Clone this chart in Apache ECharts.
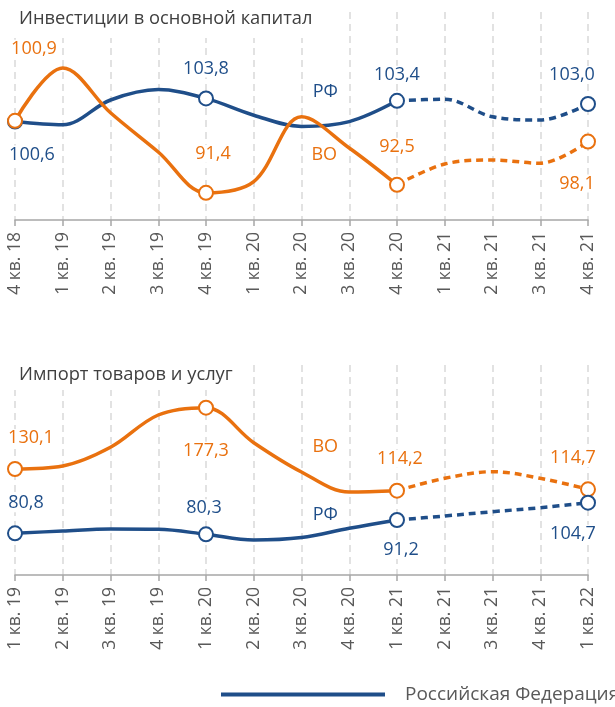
<!DOCTYPE html>
<html>
<head>
<meta charset="utf-8">
<script src="https://cdn.jsdelivr.net/npm/echarts@6/dist/echarts.min.js"></script>
<style>
  html, body { margin: 0; padding: 0; background: #fff; }
  #chart { width: 615px; height: 707px; }
</style>
</head>
<body>
<div id="chart"></div>
<script>
// категории по кварталам
const invCats = ['4 кв. 18', '1 кв. 19', '2 кв. 19', '3 кв. 19', '4 кв. 19', '1 кв. 20', '2 кв. 20',
  '3 кв. 20', '4 кв. 20', '1 кв. 21', '2 кв. 21', '3 кв. 21', '4 кв. 21'];
const impCats = ['1 кв. 19', '2 кв. 19', '3 кв. 19', '4 кв. 19', '1 кв. 20', '2 кв. 20', '3 кв. 20',
  '4 кв. 20', '1 кв. 21', '2 кв. 21', '3 кв. 21', '4 кв. 21', '1 кв. 22'];

// значения линий (оценка по картинке)
const invRF = [99.8, 99.4, 102.5, 103.8, 102.7, 100.6, 99.2, 99.8, 102.4, 102.6, 100.4, 100.0, 102.0];
const invVO = [99.9, 106.5, 100.9, 96.0, 90.9, 92.3, 100.4, 96.5, 91.9, 94.5, 95.0, 94.6, 97.3];
const impRF = [81.7, 84.0, 86.0, 85.7, 80.7, 75.0, 77.5, 86.7, 95.0, 99.0, 103.3, 107.3, 112.3];
const impVO = [146.0, 149.0, 167.7, 200.0, 207.3, 172.3, 143.0, 123.0, 124.3, 136.7, 143.3, 136.7, 125.7];

// подписи у маркеров (точки 0, 4, 8, 12)
const markIdx = [0, 4, 8, 12];
const invRFLabels = ['100,6', '103,8', '103,4', '103,0'];
const invVOLabels = ['100,9', '91,4', '92,5', '98,1'];
const impRFLabels = ['80,8', '80,3', '91,2', '104,7'];
const impVOLabels = ['130,1', '177,3', '114,2', '114,7'];

const splitIdx = 8; // дальше - прогноз (пунктир)
const nameIdx = 7;  // где стоит подпись РФ / ВО

const BLUE = '#1f4e89';
const ORANGE = '#e9710f';
const GRAY = '#595959';
const FONT = 'Open Sans';

// смещения подписей относительно точки
const offsets = {
  invRF: [[17, 33], [0, -30], [0, -26], [-16, -29]],
  invVO: [[19, -72], [7, -39], [0, -38], [-11, 42]],
  impRF: [[11, -30], [-2, -26], [4, 30], [-15, 31]],
  impVO: [[16, -31], [0, 43], [3, -32], [-15, -31]]
};
const nameOffsets = {
  invRF: [-24, -30], invVO: [-25, 7],
  impRF: [-24, -13], impVO: [-24, -45]
};

function makeLines(name, seriesName, values, labels, color, grid, key) {
  const solid = [], dashed = [];
  values.forEach((v, i) => {
    const k = markIdx.indexOf(i);
    let item = { value: v, symbol: 'none' };
    if (k >= 0) {
      item = {
        value: v,
        symbol: 'emptyCircle',
        label: {
          show: true,
          position: 'inside',
          offset: offsets[key][k],
          formatter: labels[k],
          color: color,
          fontSize: 18,
          fontFamily: FONT,
          backgroundColor: '#fff',
          padding: [0, 2]
        }
      };
    } else if (i === nameIdx) {
      item = {
        value: v,
        symbol: 'circle',
        symbolSize: 1,
        label: {
          show: true,
          position: 'inside',
          offset: nameOffsets[key],
          formatter: name,
          color: color,
          fontSize: 18,
          fontFamily: FONT
        }
      };
    }
    solid.push(i <= splitIdx ? item : '-');
    if (i >= splitIdx) dashed.push(i === splitIdx ? { value: v, symbol: 'none' } : item);
    else dashed.push('-');
  });
  const common = {
    type: 'line',
    xAxisIndex: grid,
    yAxisIndex: grid,
    smooth: 0.35,
    symbolSize: 14,
    showSymbol: true,
    color: color,
    itemStyle: { color: color, borderWidth: 2.2 },
    emphasis: { disabled: true },
    animation: false
  };
  return [
    Object.assign({}, common, {
      name: seriesName,
      data: solid,
      z: 3,
      lineStyle: { width: 3.5, color: color }
    }),
    Object.assign({}, common, {
      name: seriesName + ' прогноз',
      data: dashed,
      z: 3,
      lineStyle: { width: 3.5, color: color, type: [7, 5] }
    })
  ];
}

function xAxisFor(cats, grid) {
  return {
    type: 'category',
    gridIndex: grid,
    data: cats,
    boundaryGap: false,
    axisLine: { lineStyle: { color: '#a6a6a6', width: 1.5 } },
    axisTick: { show: true, length: 6, alignWithLabel: true, lineStyle: { color: '#a6a6a6', width: 1.5 } },
    axisLabel: {
      rotate: 90,
      interval: 0,
      margin: 12,
      color: GRAY,
      fontSize: 17.5,
      fontFamily: FONT
    },
    splitLine: {
      show: true,
      interval: 0,
      lineStyle: { color: '#d9d9d9', width: 1.5, type: [7, 5] }
    }
  };
}

const chart = echarts.init(document.getElementById('chart'), null, { renderer: 'canvas' });

const option = {
  backgroundColor: '#fff',
  animation: false,
  title: [
    {
      text: 'Инвестиции в основной капитал',
      left: 4, top: 0,
      padding: [9, 6, 9, 15],
      backgroundColor: '#fff',
      textStyle: { color: '#404040', fontSize: 18.3, fontWeight: 'normal', fontFamily: FONT, lineHeight: 20 }
    },
    {
      text: 'Импорт товаров и услуг',
      left: 4, top: 356,
      padding: [9, 6, 5, 15],
      backgroundColor: '#fff',
      textStyle: { color: '#404040', fontSize: 18.3, fontWeight: 'normal', fontFamily: FONT, lineHeight: 20 }
    }
  ],
  legend: {
    data: [{ name: 'Российская Федерация', icon: 'rect', itemStyle: { color: BLUE } }],
    left: 221,
    top: 685,
    padding: 0,
    itemWidth: 164,
    itemHeight: 4,
    selectedMode: false,
    textStyle: { color: GRAY, fontSize: 19, fontFamily: FONT, padding: [0, 0, 0, 15] }
  },
  grid: [
    { left: 15, right: 27, top: 12, height: 208 },
    { left: 15, right: 27, top: 365, height: 210 }
  ],
  xAxis: [xAxisFor(invCats, 0), xAxisFor(impCats, 1)],
  yAxis: [
    { type: 'value', gridIndex: 0, min: 87.5, max: 113.5, show: false },
    { type: 'value', gridIndex: 1, min: 40, max: 250, show: false }
  ],
  series: [].concat(
    makeLines('РФ', 'Российская Федерация', invRF, invRFLabels, BLUE, 0, 'invRF'),
    makeLines('ВО', 'ВО', invVO, invVOLabels, ORANGE, 0, 'invVO'),
    makeLines('ВО', 'ВО импорт', impVO, impVOLabels, ORANGE, 1, 'impVO'),
    makeLines('РФ', 'РФ импорт', impRF, impRFLabels, BLUE, 1, 'impRF')
  )
};

chart.setOption(option);
window.addEventListener('resize', () => chart.resize());
</script>
</body>
</html>
